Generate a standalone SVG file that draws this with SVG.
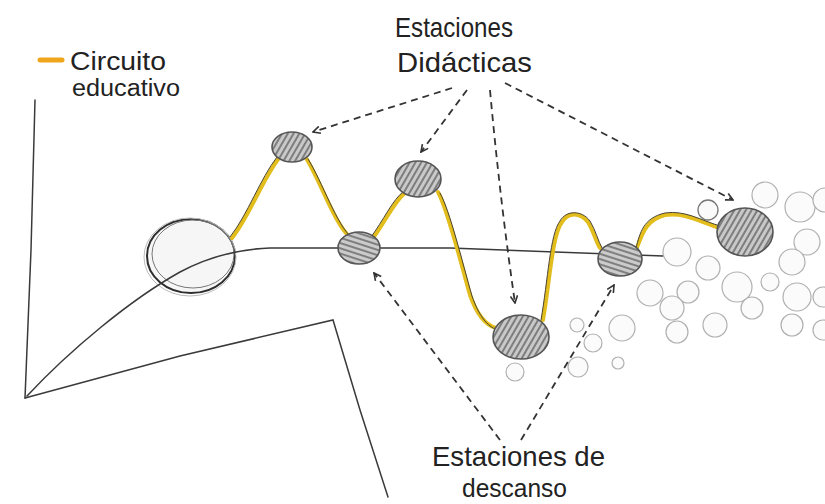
<svg xmlns="http://www.w3.org/2000/svg" width="825" height="504" viewBox="0 0 825 504">
<defs>
<pattern id="hatchA" patternUnits="userSpaceOnUse" width="5" height="5" patternTransform="rotate(30)">
<rect width="5" height="5" fill="#c9c9c9"/>
<line x1="1" y1="0" x2="1" y2="5" stroke="#555" stroke-width="1.3"/>
</pattern>
<pattern id="hatchB" patternUnits="userSpaceOnUse" width="5" height="5" patternTransform="rotate(18)">
<rect width="5" height="5" fill="#cbcbcb"/>
<line x1="0" y1="1" x2="5" y2="1" stroke="#555" stroke-width="1.3"/>
</pattern>
<marker id="chev" viewBox="0 0 10 10" refX="9" refY="5" markerWidth="9" markerHeight="9" orient="auto" markerUnits="userSpaceOnUse">
<path d="M1,1 L9,5 L1,9" fill="none" stroke="#333" stroke-width="1.8"/>
</marker>
<style>
.txt{font-family:"Liberation Sans","DejaVu Sans",sans-serif;fill:#222}
.axis{fill:none;stroke:#3a3a3a;stroke-width:1.5;stroke-linecap:round}
.dash{fill:none;stroke:#333;stroke-width:1.8;stroke-dasharray:7 5;marker-end:url(#chev)}
.yel{fill:none;stroke:#e2bd1c;stroke-width:4;stroke-linecap:round}
.yedge{fill:none;stroke:#4a4330;stroke-width:1;stroke-linecap:round}
.hnode{stroke:#555;stroke-width:1.6}
.bub{fill:#fbfbfb;stroke:#b0b0b0;stroke-width:1.2}
</style>
</defs>
<rect width="825" height="504" fill="#ffffff"/>

<g id="legend">
<line x1="40" y1="60" x2="62" y2="60" stroke="#efa51c" stroke-width="5" stroke-linecap="round"/>
<text class="txt" x="70" y="70" font-size="25" textLength="96" lengthAdjust="spacingAndGlyphs">Circuito</text>
<text class="txt" x="72" y="96" font-size="23" textLength="108" lengthAdjust="spacingAndGlyphs">educativo</text>
</g>

<g id="label-didacticas">
<text class="txt" x="395" y="37" font-size="28" textLength="118" lengthAdjust="spacingAndGlyphs">Estaciones</text>
<text class="txt" x="397" y="72" font-size="28" textLength="135" lengthAdjust="spacingAndGlyphs">Didácticas</text>
</g>

<g id="label-descanso">
<text class="txt" x="432" y="466" font-size="28" textLength="173" lengthAdjust="spacingAndGlyphs">Estaciones de</text>
<text class="txt" x="462" y="497" font-size="26" textLength="105" lengthAdjust="spacingAndGlyphs">descanso</text>
</g>

<g id="inicio">
<ellipse cx="191" cy="256" rx="44" ry="37" fill="#f6f6f6" stroke="#2e2e2e" stroke-width="2"/>
<ellipse cx="193" cy="254" rx="41" ry="34" fill="none" stroke="#777" stroke-width="1"/>
<ellipse cx="190" cy="257" rx="46" ry="39" fill="none" stroke="#bbb" stroke-width="1"/>
</g>

<g id="axes">
<path class="axis" d="M35,100 L31,250 L25,398"/>
<path class="axis" d="M25,398 L180,356 L333,320 L360,410 L388,497"/>
<path class="axis" d="M27,396 C70,350 130,300 180,272 C210,256 240,249 270,248 L450,248 L663,256"/>
</g>

<g id="bubbles">
<circle class="bub" cx="765" cy="195" r="13"/>
<circle class="bub" cx="800" cy="207" r="15"/>
<circle class="bub" cx="825" cy="200" r="12"/>
<circle class="bub" cx="807" cy="242" r="13"/>
<circle class="bub" cx="792" cy="262" r="13"/>
<circle class="bub" cx="677" cy="252" r="14"/>
<circle class="bub" cx="708" cy="268" r="12"/>
<circle class="bub" cx="737" cy="287" r="15"/>
<circle class="bub" cx="770" cy="282" r="9"/>
<circle class="bub" cx="650" cy="293" r="13"/>
<circle class="bub" cx="688" cy="292" r="11"/>
<circle class="bub" cx="672" cy="308" r="12"/>
<circle class="bub" cx="752" cy="308" r="11"/>
<circle class="bub" cx="797" cy="297" r="14"/>
<circle class="bub" cx="823" cy="297" r="10"/>
<circle class="bub" cx="677" cy="332" r="11"/>
<circle class="bub" cx="715" cy="325" r="12"/>
<circle class="bub" cx="792" cy="325" r="11"/>
<circle class="bub" cx="823" cy="330" r="10"/>
<circle class="bub" cx="622" cy="328" r="13"/>
<circle class="bub" cx="577" cy="325" r="7"/>
<circle class="bub" cx="593" cy="343" r="9"/>
<circle class="bub" cx="578" cy="367" r="10"/>
<circle class="bub" cx="618" cy="363" r="6"/>
<circle class="bub" cx="515" cy="372" r="9"/>
<circle cx="708" cy="210" r="10" fill="#fafafa" stroke="#777" stroke-width="1.3"/>
</g>

<g id="circuito">
<g stroke-linejoin="round">
<path class="yel" d="M232,238 C250,215 262,180 279,158"/>
<path class="yel" d="M306,158 C320,180 335,225 350,237"/>
<path class="yel" d="M373,238 C385,222 395,200 405,193"/>
<path class="yel" d="M438,192 C448,210 460,260 470,295 C477,315 485,325 496,328"/>
<path class="yel" d="M543,320 C550,280 552,235 562,222 C568,212 580,212 588,222 C594,232 596,242 600,248"/>
<path class="yel" d="M636,250 C642,235 645,220 665,215 C685,212 700,222 720,228"/>
</g>
<g>
<path class="yedge" d="M230,237 C248,214 260,179 277,157"/>
<path class="yedge" d="M308,159 C322,181 337,226 352,238"/>
<path class="yedge" d="M371,237 C383,221 393,199 403,192"/>
<path class="yedge" d="M440,193 C450,211 462,261 472,296 C479,316 487,326 497,330"/>
<path class="yedge" d="M541,320 C548,280 550,234 560,221 C566,210 582,210 590,221 C596,231 598,241 602,248"/>
<path class="yedge" d="M636,248 C640,233 643,218 665,213 C685,210 700,220 720,226"/>
</g>
</g>

<g id="estacion-didactica-1"><ellipse class="hnode" cx="292" cy="147" rx="20" ry="15" fill="url(#hatchA)"/></g>
<g id="estacion-descanso-1"><ellipse class="hnode" cx="359" cy="248" rx="21" ry="16" fill="url(#hatchB)"/></g>
<g id="estacion-didactica-2"><ellipse class="hnode" cx="418" cy="179" rx="23" ry="18" fill="url(#hatchA)"/></g>
<g id="estacion-didactica-3"><ellipse class="hnode" cx="521" cy="337" rx="28" ry="22" fill="url(#hatchA)"/></g>
<g id="estacion-descanso-2"><ellipse class="hnode" cx="620" cy="259" rx="22" ry="17" fill="url(#hatchB)"/></g>
<g id="estacion-didactica-4"><ellipse class="hnode" cx="745" cy="232" rx="28" ry="24" fill="url(#hatchA)"/></g>

<g id="connectors">
<path class="dash" d="M452,88 L313,132"/>
<path class="dash" d="M467,90 L421,152"/>
<path class="dash" d="M490,90 Q500,200 515,303"/>
<path class="dash" d="M505,83 L733,200"/>
<path class="dash" d="M500,440 L374,273"/>
<path class="dash" d="M521,440 L614,285"/>
</g>
</svg>
